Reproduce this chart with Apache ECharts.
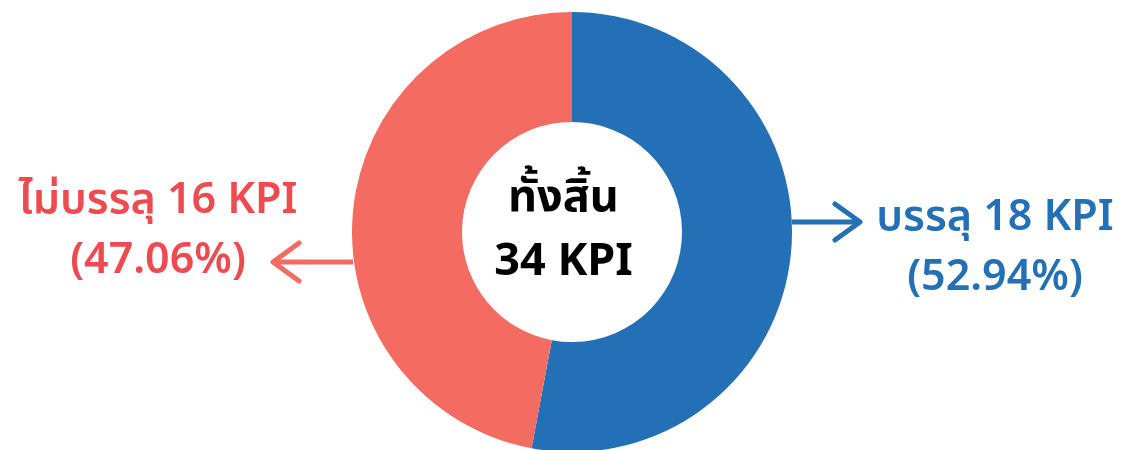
<!DOCTYPE html>
<html>
<head>
<meta charset="utf-8">
<script src="https://cdn.jsdelivr.net/npm/echarts@6/dist/echarts.min.js"></script>
<style>
  html, body { margin: 0; padding: 0; background: #fff; }
  #kpiPie { width: 1127px; height: 450px; }
</style>
</head>
<body>
<div id="kpiPie"></div>
<script>
// ข้อมูล KPI
const names = ['บรรลุ', 'ไม่บรรลุ'];
const values = [18, 16];
const colors = ['#2470b6', '#f46b62'];
const textColors = ['#2470b6', '#ee4a50'];
const centerLines = ['ทั้งสิ้น', '34 KPI'];

const total = values.reduce((a, b) => a + b, 0);
const font = '"Noto Sans", "Noto Sans Thai", Roboto, sans-serif';

// ตำแหน่งป้ายกำกับ (ขวา = บรรลุ, ซ้าย = ไม่บรรลุ)
const labelPos = [
  { x: 995, y: 248 },
  { x: 158, y: 231 }
];

const getInitEcharts = () => {
  const chartDom = document.getElementById('kpiPie');
  const myChart = echarts.init(chartDom, null, { renderer: 'canvas' });
  const option = {
    animation: false,
    graphic: [
      // ลูกศรขวา
      {
        type: 'polyline',
        shape: { points: [[792, 222], [860, 222]] },
        style: { stroke: colors[0], lineWidth: 5, fill: null }
      },
      {
        type: 'polyline',
        shape: { points: [[835, 204], [860, 222], [835, 240]] },
        style: { stroke: colors[0], lineWidth: 5, fill: null, lineCap: 'round', lineJoin: 'round' }
      },
      // ลูกศรซ้าย
      {
        type: 'polyline',
        shape: { points: [[353, 262], [273, 262]] },
        style: { stroke: colors[1], lineWidth: 5, fill: null }
      },
      {
        type: 'polyline',
        shape: { points: [[299, 243], [273, 262], [299, 281]] },
        style: { stroke: colors[1], lineWidth: 5, fill: null, lineCap: 'round', lineJoin: 'round' }
      },
      // ข้อความกลาง
      {
        type: 'text',
        left: 'center',
        top: 166,
        z: 10,
        style: {
          text: centerLines.join('\n'),
          font: 'bold 45px ' + font,
          fill: '#000',
          textAlign: 'center',
          lineHeight: 64
        }
      }
    ],
    series: [
      {
        name: 'KPI',
        type: 'pie',
        center: [572, 232],
        radius: [110, 220],
        startAngle: 90,
        clockwise: true,
        avoidLabelOverlap: false,
        itemStyle: { borderWidth: 0 },
        label: {
          show: true,
          position: 'outside',
          formatter: p => `${p.name} ${p.value} KPI\n(${(p.value / total * 100).toFixed(2)}%)`,
          fontFamily: font,
          fontSize: 43,
          fontWeight: 600,
          lineHeight: 60,
          align: 'center'
        },
        labelLine: { show: false },
        labelLayout: params => ({
          x: labelPos[params.dataIndex].x,
          y: labelPos[params.dataIndex].y,
          align: 'center',
          verticalAlign: 'middle'
        }),
        emphasis: { disabled: true },
        data: names.map((n, i) => ({
          name: n,
          value: values[i],
          itemStyle: { color: colors[i] },
          label: { color: textColors[i] }
        }))
      }
    ]
  };
  myChart.setOption(option);
};

getInitEcharts();
</script>
</body>
</html>
